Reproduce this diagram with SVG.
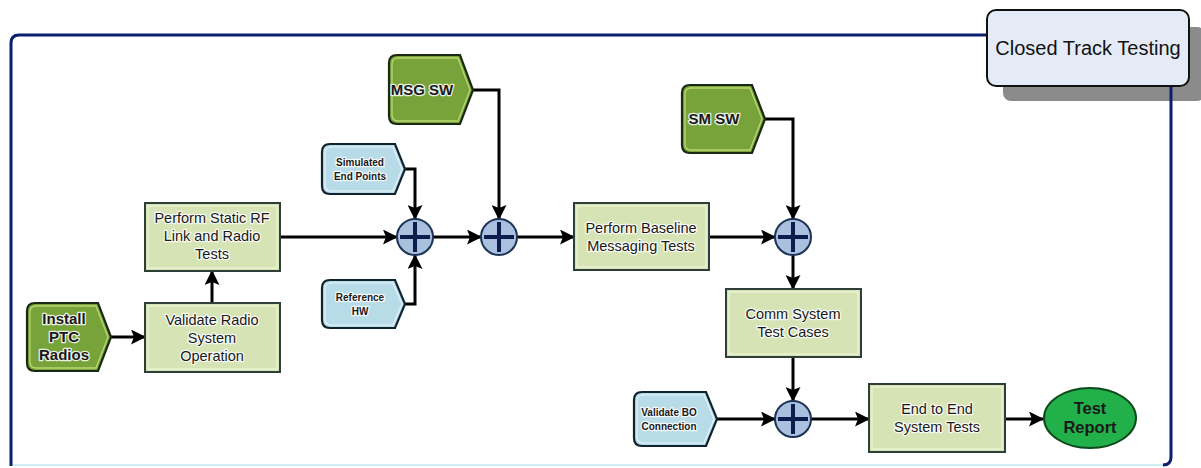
<svg xmlns="http://www.w3.org/2000/svg" width="1201" height="468" viewBox="0 0 1201 468">
  <defs>
    <marker id="arrow" markerUnits="userSpaceOnUse" markerWidth="15" markerHeight="15" refX="14" refY="7.5" orient="auto">
      <path d="M0,0 L15,7.5 L0,15 L3,7.5 Z" fill="#000"/>
    </marker>
    <g id="plus">
      <circle r="18" fill="#a9c1de" stroke="#1c3356" stroke-width="2"/>
      <path d="M-15,0 H15 M0,-15 V15" stroke="#0b1d4c" stroke-width="4"/>
    </g>
  </defs>
  <style>
    .task { fill: #d6e3b5; stroke: #2d3f36; stroke-width: 2; }
    .taskin { fill: none; stroke: #eef5da; stroke-width: 1.2; }
    .dg { fill: #78a33a; stroke: #1a2a12; stroke-width: 2.2; }
    .dgin { fill: none; stroke: #b9d872; stroke-width: 1.3; }
    .lb { fill: #b8dbe8; stroke: #10232f; stroke-width: 2.2; }
    .lbin { fill: none; stroke: #e4f4fa; stroke-width: 1.2; }
    .t { font-family: "Liberation Sans", Arial, sans-serif; fill: #1a1a1a; text-anchor: middle;
         stroke: #ffffff; stroke-width: 2.6; stroke-opacity: 0.85; paint-order: stroke; stroke-linejoin: round; }
    .t14 { font-size: 14.5px; }
    .b15 { font-size: 15px; font-weight: bold; }
    .b10 { font-size: 10px; font-weight: bold; }
    .conn { fill: none; stroke: #000; stroke-width: 3; marker-end: url(#arrow); }
  </style>

  <rect width="1201" height="468" fill="#ffffff"/>

  <!-- swimlane frame and title tab -->
  <g id="lane">
    <rect x="1003" y="27" width="202" height="74" rx="8" fill="#8b8b8b"/>
    <path d="M11,466 V43 Q11,35 19,35 H1163 Q1171,35 1171,43 V457 Q1171,465 1163,465" fill="none" stroke="#0b1f6e" stroke-width="3"/>
    <path d="M13,465 H1163" fill="none" stroke="#cfeef5" stroke-width="2"/>
    <rect x="987" y="10" width="202" height="76" rx="9" fill="#e4ebf7" stroke="#111" stroke-width="2"/>
    <text x="1088" y="55" font-family="Liberation Sans, Arial, sans-serif" font-size="20" text-anchor="middle" fill="#111">Closed Track Testing</text>
  </g>

  <!-- connectors -->
  <g id="connectors">
    <path class="conn" d="M111,337 H145"/>
    <path class="conn" d="M212,303 V271"/>
    <path class="conn" d="M280,237 H397"/>
    <path class="conn" d="M405,169 H415 V219"/>
    <path class="conn" d="M405,304 H415 V255"/>
    <path class="conn" d="M433,237 H481"/>
    <path class="conn" d="M473,90 H499 V219"/>
    <path class="conn" d="M517,237 H574"/>
    <path class="conn" d="M709,237 H775"/>
    <path class="conn" d="M765,119 H793 V219"/>
    <path class="conn" d="M793,255 V289"/>
    <path class="conn" d="M793,357 V401"/>
    <path class="conn" d="M717,419 H775"/>
    <path class="conn" d="M811,419 H869"/>
    <path class="conn" d="M1005,419 H1043"/>
  </g>

  <!-- inputs -->
  <g id="install-ptc-radios">
    <path class="dg" d="M35,303 H98 L111,337 L98,371 H35 Q27,371 27,363 V311 Q27,303 35,303 Z"/>
    <path class="dgin" d="M36,306 H96 L108,337 L96,368 H36 Q30,368 30,362 V312 Q30,306 36,306 Z"/>
    <text class="t b15" x="64"><tspan x="64" y="324">Install</tspan><tspan x="64" y="342">PTC</tspan><tspan x="64" y="360">Radios</tspan></text>
  </g>

  <g id="simulated-end-points">
    <path class="lb" d="M330,144 H395 L405,169 L395,194 H330 Q322,194 322,186 V152 Q322,144 330,144 Z"/>
    <path class="lbin" d="M331,147 H393 L402,169 L393,191 H331 Q325,191 325,185 V153 Q325,147 331,147 Z"/>
    <text class="t b10"><tspan x="360" y="166">Simulated</tspan><tspan x="360" y="180">End Points</tspan></text>
  </g>

  <g id="reference-hw">
    <path class="lb" d="M330,280 H395 L405,304 L395,328 H330 Q322,328 322,320 V288 Q322,280 330,280 Z"/>
    <path class="lbin" d="M331,283 H393 L402,304 L393,325 H331 Q325,325 325,319 V289 Q325,283 331,283 Z"/>
    <text class="t b10"><tspan x="360" y="301">Reference</tspan><tspan x="360" y="315">HW</tspan></text>
  </g>

  <g id="msg-sw">
    <path class="dg" d="M397,55 H460 L473,90 L460,124 H397 Q389,124 389,116 V63 Q389,55 397,55 Z"/>
    <path class="dgin" d="M398,58 H458 L470,90 L458,121 H398 Q392,121 392,115 V64 Q392,58 398,58 Z"/>
    <text class="t b15" x="422" y="95">MSG SW</text>
  </g>

  <g id="sm-sw">
    <path class="dg" d="M690,85 H752 L765,119 L752,153 H690 Q682,153 682,145 V93 Q682,85 690,85 Z"/>
    <path class="dgin" d="M691,88 H750 L762,119 L750,150 H691 Q685,150 685,144 V94 Q685,88 691,88 Z"/>
    <text class="t b15" x="714" y="124">SM SW</text>
  </g>

  <g id="validate-bo-connection">
    <path class="lb" d="M642,392 H706 L717,419 L706,446 H642 Q634,446 634,438 V400 Q634,392 642,392 Z"/>
    <path class="lbin" d="M643,395 H704 L714,419 L704,443 H643 Q637,443 637,437 V401 Q637,395 643,395 Z"/>
    <text class="t b10"><tspan x="669" y="416">Validate BO</tspan><tspan x="669" y="430">Connection</tspan></text>
  </g>

  <!-- tasks -->
  <g id="validate-radio-system-operation">
    <rect class="task" x="145" y="303" width="135" height="69"/>
    <rect class="taskin" x="148" y="306" width="129" height="63"/>
    <text class="t t14"><tspan x="212" y="325">Validate Radio</tspan><tspan x="212" y="343">System</tspan><tspan x="212" y="361">Operation</tspan></text>
  </g>

  <g id="perform-static-rf">
    <rect class="task" x="145" y="203" width="135" height="68"/>
    <rect class="taskin" x="148" y="206" width="129" height="62"/>
    <text class="t t14"><tspan x="212" y="223">Perform Static RF</tspan><tspan x="212" y="241">Link and Radio</tspan><tspan x="212" y="259">Tests</tspan></text>
  </g>

  <g id="perform-baseline-messaging">
    <rect class="task" x="574" y="203" width="135" height="67"/>
    <rect class="taskin" x="577" y="206" width="129" height="61"/>
    <text class="t t14"><tspan x="641" y="233">Perform Baseline</tspan><tspan x="641" y="251">Messaging Tests</tspan></text>
  </g>

  <g id="comm-system-test-cases">
    <rect class="task" x="726" y="289" width="135" height="68"/>
    <rect class="taskin" x="729" y="292" width="129" height="62"/>
    <text class="t t14"><tspan x="793" y="319">Comm System</tspan><tspan x="793" y="337">Test Cases</tspan></text>
  </g>

  <g id="end-to-end-system-tests">
    <rect class="task" x="869" y="384" width="136" height="68"/>
    <rect class="taskin" x="872" y="387" width="130" height="62"/>
    <text class="t t14"><tspan x="937" y="414">End to End</tspan><tspan x="937" y="432">System Tests</tspan></text>
  </g>

  <!-- merge points -->
  <g id="merge-1"><use href="#plus" x="415" y="237"/></g>
  <g id="merge-2"><use href="#plus" x="499" y="237"/></g>
  <g id="merge-3"><use href="#plus" x="793" y="237"/></g>
  <g id="merge-4"><use href="#plus" x="793" y="419"/></g>

  <!-- output -->
  <g id="test-report">
    <ellipse cx="1090" cy="418" rx="46" ry="30" fill="#22b04a" stroke="#0c4a1c" stroke-width="2"/>
    <text class="t" style="font-size:16.5px;font-weight:bold;stroke:none"><tspan x="1090" y="414">Test</tspan><tspan x="1090" y="433">Report</tspan></text>
  </g>
</svg>
